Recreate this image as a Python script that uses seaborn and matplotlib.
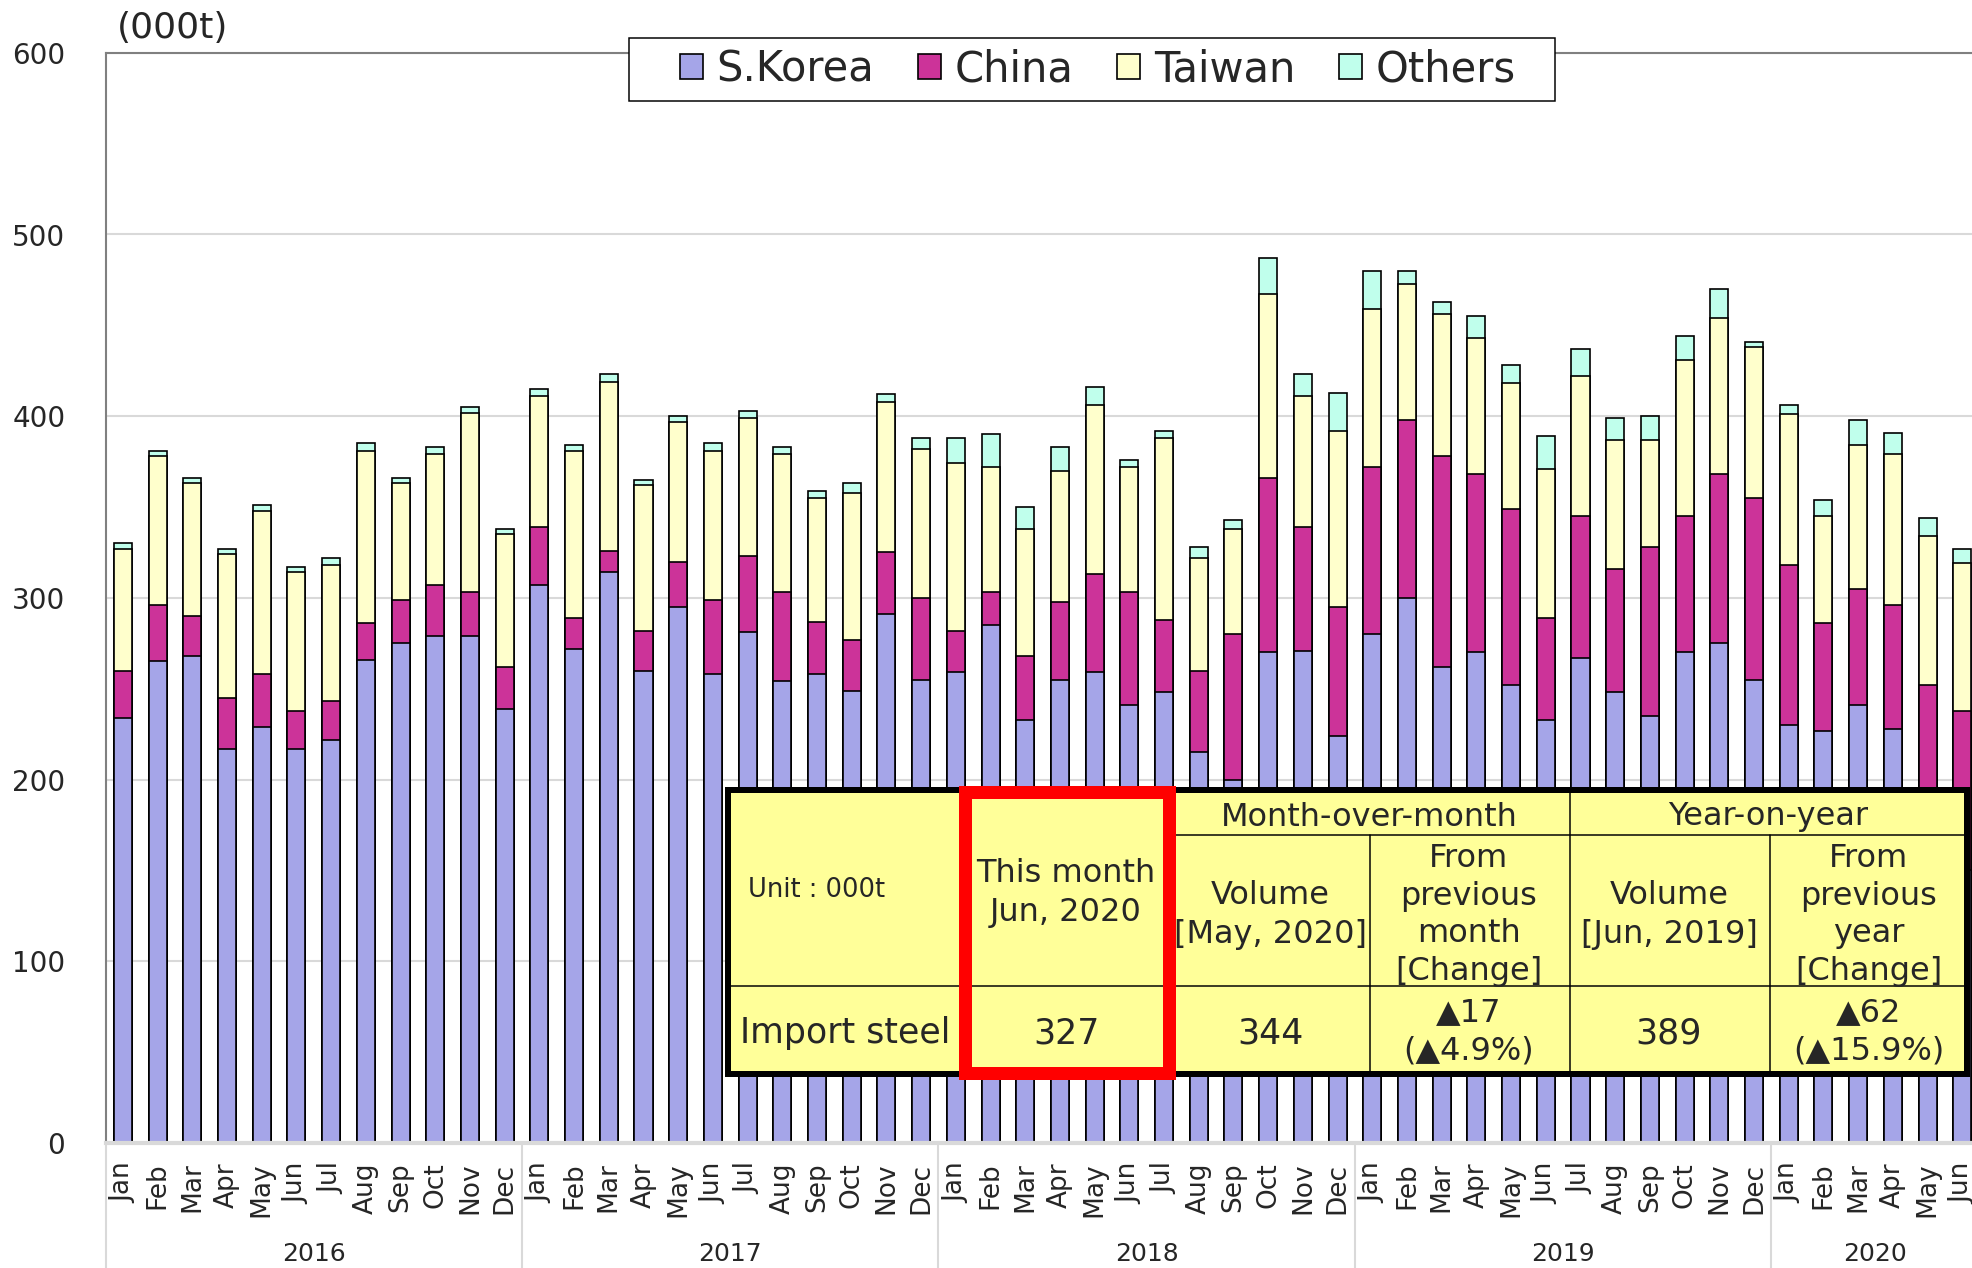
import numpy as np
import pandas as pd
import matplotlib
matplotlib.use("Agg")
import matplotlib.pyplot as plt
import matplotlib.transforms as mtransforms
from matplotlib.patches import Patch, Rectangle
from matplotlib.lines import Line2D
import seaborn as sns

# ---------------- data (000t) ----------------
years = ["2016", "2017", "2018", "2019", "2020"]
months = ["Jan", "Feb", "Mar", "Apr", "May", "Jun",
          "Jul", "Aug", "Sep", "Oct", "Nov", "Dec"]
month_labels = (months * 5)[:54]

s_korea = [234, 265, 268, 217, 229, 217, 222, 266, 275, 279, 279, 239,
           307, 272, 314, 260, 295, 258, 281, 254, 258, 249, 291, 255,
           259, 285, 233, 255, 259, 241, 248, 215, 200, 270, 271, 224,
           280, 300, 262, 270, 252, 233, 267, 248, 235, 270, 275, 255,
           230, 227, 241, 228, 160, 150]
china = [26, 31, 22, 28, 29, 21, 21, 20, 24, 28, 24, 23,
         32, 17, 12, 22, 25, 41, 42, 49, 29, 28, 34, 45,
         23, 18, 35, 43, 54, 62, 40, 45, 80, 96, 68, 71,
         92, 98, 116, 98, 97, 56, 78, 68, 93, 75, 93, 100,
         88, 59, 64, 68, 92, 88]
taiwan = [67, 82, 73, 79, 90, 76, 75, 95, 64, 72, 99, 73,
          72, 92, 93, 80, 77, 82, 76, 76, 68, 81, 83, 82,
          92, 69, 70, 72, 93, 69, 100, 62, 58, 101, 72, 97,
          87, 75, 78, 75, 69, 82, 77, 71, 59, 86, 86, 83,
          83, 59, 79, 83, 82, 81]
others = [3, 3, 3, 3, 3, 3, 4, 4, 3, 4, 3, 3,
          4, 3, 4, 3, 3, 4, 4, 4, 4, 5, 4, 6,
          14, 18, 12, 13, 10, 4, 4, 6, 5, 20, 12, 21,
          21, 7, 7, 12, 10, 18, 15, 12, 13, 13, 16, 3,
          5, 9, 14, 12, 10, 8]

series_names = ["S.Korea", "China", "Taiwan", "Others"]
series_colors = ["#A5A5E8", "#CC3399", "#FFFFCC", "#C0FFEC"]

n = len(s_korea)
df = pd.DataFrame({"pos": np.arange(n), "S.Korea": s_korea, "China": china,
                   "Taiwan": taiwan, "Others": others})
df["c1"] = df["S.Korea"]
df["c2"] = df["c1"] + df["China"]
df["c3"] = df["c2"] + df["Taiwan"]
df["c4"] = df["c3"] + df["Others"]
totals = df["c4"].to_numpy()

this_month = int(totals[-1])
prev_month = int(totals[-2])
prev_year = int(totals[-13])

# ---------------- figure ----------------
sns.set_style("white")
plt.rcParams["font.family"] = ["DejaVu Sans"]

W_PX, H_PX = 1972, 1268
fig = plt.figure(figsize=(W_PX / 100, H_PX / 100), dpi=100)
fig.patch.set_facecolor("white")
px = 72 / 100  # points per pixel

ax_left, ax_bottom_px, ax_top_px, ax_right = 105.6, 1143.0, 52.8, 1979.6
ax = fig.add_axes([ax_left / W_PX, (H_PX - ax_bottom_px) / H_PX,
                   (ax_right - ax_left) / W_PX, (ax_bottom_px - ax_top_px) / H_PX])

for col, color in zip(["c4", "c3", "c2", "c1"], series_colors[::-1]):
    sns.barplot(data=df, x="pos", y=col, color=color, saturation=1,
                width=0.52, edgecolor="black", linewidth=1.2,
                errorbar=None, ax=ax, zorder=2)

ax.set_xlim(-0.5, n - 0.5)
ax.set_ylim(0, 600)
ax.set_yticks(np.arange(0, 601, 100))
ax.set_yticklabels([str(v) for v in range(0, 601, 100)], fontsize=20)
ax.set_xticks(np.arange(n))
ax.set_xticklabels(month_labels, rotation=90, fontsize=19)
ax.tick_params(axis="x", length=0, pad=14)
ax.tick_params(axis="y", length=0, pad=29)
ax.set_xlabel("")
ax.set_ylabel("")
ax.set_axisbelow(True)
ax.yaxis.grid(True, color="#D9D9D9", linewidth=1.5)
ax.xaxis.grid(False)
for side in ["left", "top"]:
    ax.spines[side].set_color("#808080")
    ax.spines[side].set_linewidth(1.5)
ax.spines["bottom"].set_color("#D9D9D9")
ax.spines["bottom"].set_linewidth(3)
ax.spines["right"].set_visible(False)

trans = mtransforms.blended_transform_factory(ax.transData, ax.transAxes)
for k, yr in enumerate(years):
    start = 12 * k
    end = min(start + 11, n - 1)
    ax.text((start + end) / 2, -0.1018, yr, transform=trans,
            ha="center", va="center", fontsize=18)
    ax.add_line(Line2D([start - 0.5, start - 0.5], [0, -0.12], transform=trans,
                       color="#D9D9D9", linewidth=1.5, clip_on=False))

fig.text(117 / W_PX, 1 - 27.7 / H_PX, "(000t)", ha="left", va="center", fontsize=26)

# legend box + entries
fig.add_artist(Rectangle((629 / W_PX, 1 - 101 / H_PX), (1555 - 629) / W_PX, 63 / H_PX,
                         transform=fig.transFigure, facecolor="white",
                         edgecolor="black", linewidth=1.5 * px, zorder=3))
handles = [Patch(facecolor=c, edgecolor="black", linewidth=1.2) for c in series_colors]
leg = fig.legend(handles, series_names, loc="center",
                 bbox_to_anchor=(1098 / W_PX, 1 - 69.5 / H_PX), ncol=4,
                 fontsize=30, frameon=False, handlelength=0.55, handleheight=0.55,
                 handletextpad=0.33, columnspacing=1.05, borderpad=0.0)
leg.set_zorder(5)

# ---------------- summary table (pixel coordinates) ----------------
tab = fig.add_axes([0, 0, 1, 1], zorder=5)
tab.set_xlim(0, W_PX)
tab.set_ylim(H_PX, 0)
tab.axis("off")
tab.patch.set_alpha(0)

x0, x1, y0, y1 = 728, 1967, 790, 1074
tab.add_patch(Rectangle((x0, y0), x1 - x0, y1 - y0, facecolor="#FFFF99",
                        edgecolor="black", linewidth=6 * px, zorder=1))
thin = dict(color="black", linewidth=1.5 * px, zorder=2)
tab.plot([1168, x1], [835, 835], **thin)
tab.plot([x0, x1], [986, 986], **thin)
tab.plot([964, 964], [y0, y1], **thin)
tab.plot([1168, 1168], [y0, y1], **thin)
tab.plot([1370, 1370], [835, y1], **thin)
tab.plot([1570, 1570], [y0, y1], **thin)
tab.plot([1770, 1770], [835, y1], **thin)
tab.add_patch(Rectangle((964.5, 791.5), 204, 281, facecolor="none",
                        edgecolor="#FF0000", linewidth=13 * px, zorder=3))

mom = this_month - prev_month
yoy = this_month - prev_year
def fmt_change(d, base):
    sign = "▲" if d < 0 else ""
    return f"{sign}{abs(d)}\n({sign}{abs(d) / base * 100:.1f}%)"

def t(x, y, s, size, ls=1.2):
    tab.text(x, y, s, ha="center", va="center", fontsize=size,
             linespacing=ls, zorder=4)

t(817, 890, "Unit : 000t", 18.5)
t(1066, 893, "This month\nJun, 2020", 23, 1.35)
t(1369, 817, "Month-over-month", 23)
t(1768, 817, "Year-on-year", 23)
t(1270, 915, "Volume\n[May, 2020]", 23, 1.3)
t(1469, 915, "From\nprevious\nmonth\n[Change]", 23, 1.28)
t(1669, 915, "Volume\n[Jun, 2019]", 23, 1.3)
t(1869, 915, "From\nprevious\nyear\n[Change]", 23, 1.28)
t(845, 1033, "Import steel", 25)
t(1066, 1033, str(this_month), 25)
t(1270, 1033, str(prev_month), 25)
t(1469, 1032, fmt_change(mom, prev_month), 23, 1.3)
t(1669, 1033, str(prev_year), 25)
t(1869, 1032, fmt_change(yoy, prev_year), 23, 1.3)

fig.savefig("out.png", dpi=100)
